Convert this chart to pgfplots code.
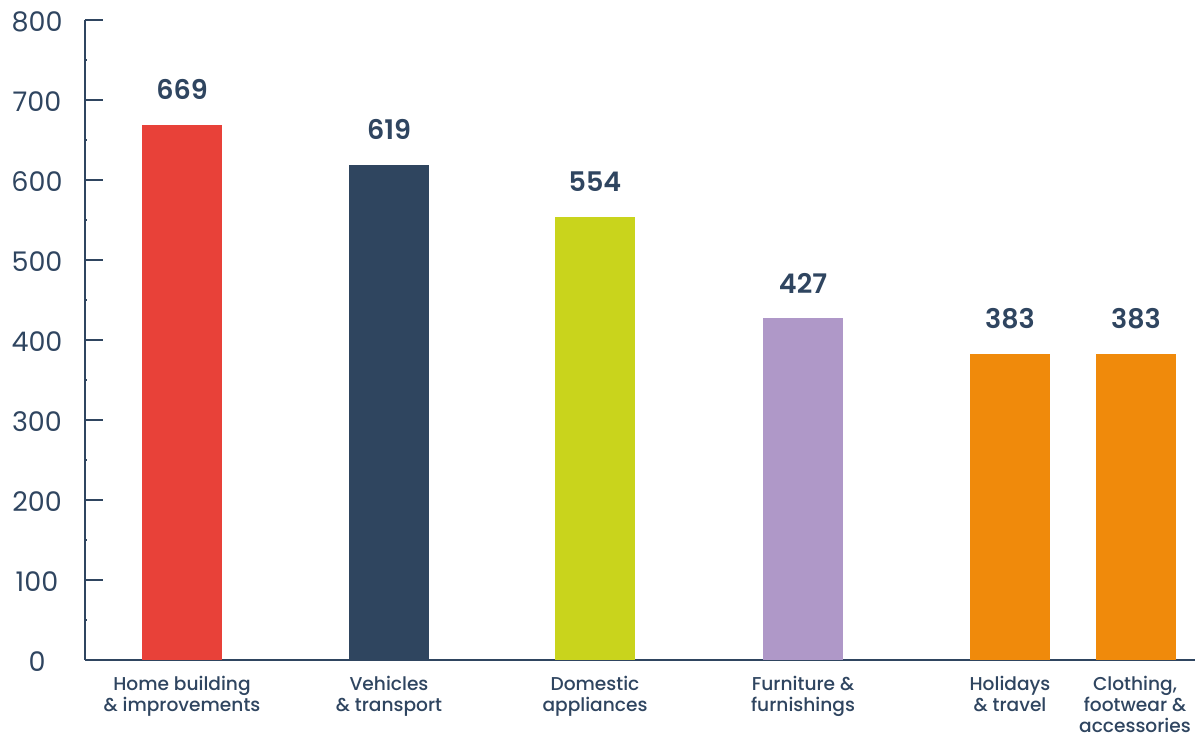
\documentclass[border=0pt]{standalone}
\usepackage{pgfplots}
\pgfplotsset{compat=1.18}
\usepackage{fontspec}
\setmainfont{Poppins}
\newfontfamily\pmed{Poppins}[UprightFont=* Medium, BoldFont=* SemiBold]
\definecolor{txt}{HTML}{2F4560}
\definecolor{cRed}{HTML}{E84139}
\definecolor{cNavy}{HTML}{2F455F}
\definecolor{cLime}{HTML}{C9D41C}
\definecolor{cLav}{HTML}{AF98C8}
\definecolor{cOrg}{HTML}{F08A0B}
\begin{document}
\begin{tikzpicture}
\begin{axis}[
  name=ax,
  scale only axis,
  width=555pt, height=320pt,
  xmin=85, xmax=1195, ymin=0, ymax=800,
  axis lines=left,
  axis line style={txt, line width=0.9pt, -},
  ytick={0,100,...,800},
  minor ytick={50,150,...,750},
  xtick={182,389,595,803,1010,1135},
  xticklabels={{Home building\\\& improvements}, {Vehicles\\\& transport}, {Domestic\\appliances}, {Furniture \&\\furnishings}, {Holidays\\\& travel}, {Clothing,\\footwear \&\\accessories}},
  x tick style={draw=none},
  y tick style={txt, line width=0.9pt},
  major tick length=9pt,
  minor tick length=1pt,
  tick align=inside,
  yticklabel style={anchor=center, xshift=-24pt, yshift=-1pt, font=\fontsize{13.5}{15}\selectfont, text=txt},
  xticklabel style={align=center, inner sep=0pt, font=\pmed\fontsize{9.3}{10.7}\selectfont, text=txt, yshift=-7.7pt},
  /pgf/number format/assume math mode=true,
  clip=false,
]
\addplot[ybar, bar width=40pt, fill=cRed, draw=none] coordinates {(182,669)};
\addplot[ybar, bar width=40pt, fill=cNavy, draw=none] coordinates {(389,619)};
\addplot[ybar, bar width=40pt, fill=cLime, draw=none] coordinates {(595,554)};
\addplot[ybar, bar width=40pt, fill=cLav, draw=none] coordinates {(803,427)};
\addplot[ybar, bar width=40pt, fill=cOrg, draw=none] coordinates {(1010,383)};
\addplot[ybar, bar width=40pt, fill=cOrg, draw=none] coordinates {(1136,383)};
\addplot[only marks, mark=none, nodes near coords, point meta=explicit symbolic,
  every node near coord/.style={anchor=south, yshift=9pt, font=\pmed\bfseries\fontsize{13.5}{15}\selectfont, text=txt}]
  coordinates {(182,669)[669] (389,619)[619] (595,554)[554] (803,427)[427] (1010,383)[383] (1136,383)[383]};
\end{axis}
\pgfresetboundingbox
\path (ax.south west) ++(-42.5pt,-38.5pt) rectangle ++(597.5pt,368.5pt);
\end{tikzpicture}
\end{document}
